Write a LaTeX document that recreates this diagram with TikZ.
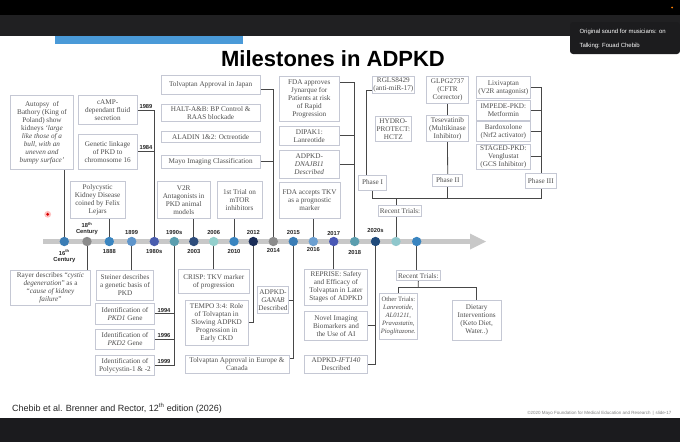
\documentclass[tikz,border=0pt]{standalone}
\usepackage{fontspec}
\setmainfont{Liberation Serif}
\newfontfamily\lsans{Liberation Sans}
\usetikzlibrary{calc}
\definecolor{boxc}{HTML}{C5C8D4}
\definecolor{txt}{HTML}{4E4E4E}
\definecolor{ln}{HTML}{474747}
\definecolor{barc}{HTML}{C8C8C8}
\definecolor{topg}{HTML}{202022}
\definecolor{botg}{HTML}{1B1B1E}
\definecolor{blueb}{HTML}{4A9AD8}
\definecolor{popc}{HTML}{1C1C1E}
\definecolor{dA}{HTML}{3B7DB5}
\definecolor{dG}{HTML}{8C8C8C}
\definecolor{dB}{HTML}{3A85C0}
\definecolor{dC}{HTML}{5E95CB}
\definecolor{dD}{HTML}{4A5DAE}
\definecolor{dE}{HTML}{5B9EAF}
\definecolor{dF}{HTML}{2E4D7C}
\definecolor{dH}{HTML}{93CFCC}
\definecolor{dI}{HTML}{1B2E58}
\definecolor{dJ}{HTML}{6B9FD1}
\definecolor{dK}{HTML}{4A58B5}
\definecolor{dL}{HTML}{214B7B}
\definecolor{dM}{HTML}{8FC7CC}
\pgfdeclarelayer{bgl}\pgfdeclarelayer{lnl}\pgfsetlayers{bgl,lnl,main}
\tikzset{
  box/.style={draw=boxc, fill=white, line width=0.7pt, text=txt, align=center,
    font=\fontsize{7.2}{8}\selectfont, inner xsep=1pt, inner ysep=0.5pt},
  dot/.style={circle, minimum size=9.4pt, inner sep=0pt},
  yl/.style={font=\lsans\bfseries\fontsize{5.8}{6.4}\selectfont, text=black!85, align=center, inner sep=0pt},
  conn/.style={draw=ln, line width=0.8pt}
}
\newcommand\bx[7][]{%
 \pgfmathsetmacro\myw{#5-#3}\pgfmathsetmacro\myh{#6-#4}%
 \pgfmathsetmacro\myx{(#3+#5)/2}\pgfmathsetmacro\myy{(#4+#6)/2}%
 \node[box,minimum width=\myw pt,minimum height=\myh pt,#1] (#2) at (\myx,\myy) {#7};}
\begin{document}
\begin{tikzpicture}[x=1pt,y=-1pt]
\useasboundingbox (0,0) rectangle (680,442);
\begin{pgfonlayer}{bgl}
\fill[white] (0,0) rectangle (680,442);
\fill[black] (0,0) rectangle (680,15);
\fill[topg] (0,15) rectangle (680,36);
\fill[botg] (0,418) rectangle (680,442);
\fill[blueb] (55,36) rectangle (243,44);
\fill[popc, rounded corners=3pt] (570,22) rectangle (680,54);
\fill[orange] (672,7.5) circle (1);
\fill[red!40, opacity=0.6] (47.7,214.3) circle (3.4);
\fill[red!85!black] (47.7,214.3) circle (1.6);
\end{pgfonlayer}
\node[font=\lsans\fontsize{6}{7}\selectfont, text=white, anchor=west] (pop1) at (576,31.5) {Original sound for musicians: on};
\node[font=\lsans\fontsize{6}{7}\selectfont, text=white, anchor=west] (pop2) at (576,45.5) {Talking: Fouad Chebib};
\node[font=\lsans\bfseries\fontsize{22}{24}\selectfont] (title) at (333,58.5) {Milestones in ADPKD};
\node[font=\lsans\fontsize{9}{10}\selectfont, text=black!85, anchor=west] (cite) at (8.5,408.3) {Chebib et al. Brenner and Rector, 12\textsuperscript{th} edition (2026)};
\node[font=\lsans\fontsize{4.5}{5}\selectfont, text=black!50, anchor=east] (copy) at (675,413.3) {©2020 Mayo Foundation for Medical Education and Research \,|\, slide-17};
% timeline bar
\begin{pgfonlayer}{lnl}
\draw[barc, line width=5pt] (43,241.5) -- (471,241.5);
\fill[barc] (470,233.5) -- (486,241.5) -- (470,249.5) -- cycle;
\end{pgfonlayer}
% dots
\node[dot, fill=dA] (c1) at (64.3,241.5) {};
\node[dot, fill=dG] (c2) at (87,241.5) {};
\node[dot, fill=dB] (c3) at (109.3,241.5) {};
\node[dot, fill=dC] (c4) at (131.7,241.5) {};
\node[dot, fill=dD] (c5) at (154.3,241.5) {};
\node[dot, fill=dE] (c6) at (174.3,241.5) {};
\node[dot, fill=dF] (c7) at (193.8,241.5) {};
\node[dot, fill=dH] (c8) at (213.7,241.5) {};
\node[dot, fill=dB] (c9) at (234,241.5) {};
\node[dot, fill=dI] (c10) at (253.3,241.5) {};
\node[dot, fill=dG] (c11) at (273.3,241.5) {};
\node[dot, fill=dA] (c12) at (293.3,241.5) {};
\node[dot, fill=dJ] (c13) at (313.3,241.5) {};
\node[dot, fill=dK] (c14) at (333.7,241.5) {};
\node[dot, fill=dE] (c15) at (354.7,241.5) {};
\node[dot, fill=dL] (c16) at (375.5,241.5) {};
\node[dot, fill=dM] (c17) at (396,241.5) {};
\node[dot, fill=dB] (c18) at (416.7,241.5) {};
% year labels
\node[yl] (y1) at (64.3,256.3) {16\textsuperscript{th}\\Century};
\node[yl] (y2) at (87,228.6) {18\textsuperscript{th}\\Century};
\node[yl] (y3) at (109.3,251.3) {1888};
\node[yl] (y4) at (131.7,232.3) {1899};
\node[yl] (y5) at (154.3,251.3) {1980s};
\node[yl] (y6) at (174.3,232.3) {1990s};
\node[yl] (y7) at (193.8,251.3) {2003};
\node[yl] (y8) at (213.7,232.3) {2006};
\node[yl] (y9) at (234,251.3) {2010};
\node[yl] (y10) at (253.3,232.3) {2012};
\node[yl] (y11) at (273.3,250.8) {2014};
\node[yl] (y12) at (293.3,232.3) {2015};
\node[yl] (y13) at (313.3,249.8) {2016};
\node[yl] (y14) at (333.7,233.3) {2017};
\node[yl] (y15) at (354.7,252.5) {2018};
\node[yl] (y16) at (375.5,230.5) {2020s};
% boxes
\bx{autopsy}{10.7}{95.7}{73.3}{169.3}{Autopsy\ \ of\\Bathory (King of\\Poland) show\\kidneys \emph{`large}\\\emph{like those of a}\\\emph{bull, with an}\\\emph{uneven and}\\\emph{bumpy surface'}}
\bx{camp}{78.3}{95.7}{137}{124.3}{cAMP-\\dependant fluid\\secretion}
\bx{link}{78.3}{134.3}{137}{169.3}{Genetic linkage\\of PKD to\\chromosome 16}
\bx{polyc}{70.3}{181.7}{125}{218.3}{Polycystic\\Kidney Disease\\coined by Felix\\Lejars}
\bx{rayer}{10.3}{270}{90.7}{305}{Rayer describes ``\emph{cystic}\\\emph{degeneration}'' as a\\``\emph{cause of kidney}\\\emph{failure}''}
\bx{steiner}{96.3}{270}{153.7}{300.7}{Steiner describes\\a genetic basis of\\PKD}
\bx{pkd1}{95.7}{303.3}{154.3}{324}{Identification of\\\emph{PKD1} Gene}
\bx{pkd2}{95.7}{329}{154.3}{349.3}{Identification of\\\emph{PKD2} Gene}
\bx{poly}{95.7}{355.3}{154.3}{375.3}{Identification of\\Polycystin-1 \& -2}
\bx{japan}{161}{75.7}{260.3}{94}{Tolvaptan Approval in Japan}
\bx{halt}{161}{104.3}{260.3}{121.7}{HALT-A\&B: BP Control \&\\RAAS blockade}
\bx{aladin}{161}{131.7}{260.3}{142.7}{ALADIN 1\&2: Octreotide}
\bx{mayo}{161}{155}{260.3}{168.3}{Mayo Imaging Classification}
\bx{v2r}{157.3}{181.7}{210}{218.3}{V2R\\Antagonists in\\PKD animal\\models}
\bx{mtor}{217}{181.7}{262}{218.3}{1st Trial on\\mTOR\\inhibitors}
\bx{crisp}{178.3}{269.3}{249.3}{293.3}{CRISP: TKV marker\\of progression}
\bx{tempo}{185}{300}{248.3}{345}{TEMPO 3:4: Role\\of Tolvaptan in\\Slowing ADPKD\\Progression in\\Early CKD}
\bx{ganab}{257.7}{286.7}{288.3}{313.3}{ADPKD-\\\emph{GANAB}\\Described}
\bx{europe}{185}{355}{289}{373.3}{Tolvaptan Approval in Europe \&\\Canada}
\bx{jyn}{279.3}{76.7}{339.3}{121.7}{FDA approves\\Jynarque for\\Patients at risk\\of Rapid\\Progression}
\bx{dipak}{279.3}{126.7}{339.3}{145}{DIPAK1:\\Lanreotide}
\bx{dnajb}{279.3}{150}{339.3}{178.3}{ADPKD-\\\emph{DNAJB11}\\\emph{Described}}
\bx{tkv}{279.3}{182.7}{340}{218.3}{FDA accepts TKV\\as a prognostic\\marker}
\bx{reprise}{304.3}{269.3}{367.7}{305}{REPRISE: Safety\\and Efficacy of\\Tolvaptan in Later\\Stages of ADPKD}
\bx{novel}{304.3}{311.7}{367.7}{340}{Novel Imaging\\Biomarkers and\\the Use of AI}
\bx{ift}{304.3}{355}{367.7}{373.3}{ADPKD-\emph{IFT140}\\Described}
\bx{rgls}{375}{76}{411.7}{93.3}{RGLS8429\\(anti-miR-17)}
\bx{hydro}{375}{116.7}{411.7}{141.7}{HYDRO-\\PROTECT:\\HCTZ}
\bx{phase1}{358.3}{175}{386.7}{190}{Phase I}
\bx{rt1}{381.7}{205}{418.3}{216.7}{Recent Trials:}
\bx{glpg}{426.7}{76}{468.3}{103.3}{GLPG2737\\(CFTR\\Corrector)}
\bx{tese}{426.7}{115}{468.3}{141.7}{Tesevatinib\\(Multikinase\\Inhibitor)}
\bx{phase2}{432.7}{174.3}{462.7}{186}{Phase II}
\bx{lixi}{476.7}{76.7}{530}{98.3}{Lixivaptan\\(V2R antagonist)}
\bx{impede}{476.7}{100.7}{530}{120}{IMPEDE-PKD:\\Metformin}
\bx{bardox}{476.7}{121.7}{530}{141}{Bardoxolone\\(Nrf2 activator)}
\bx{staged}{476.7}{144}{530}{169.3}{STAGED-PKD:\\Venglustat\\(GCS Inhibitor)}
\bx{phase3}{525}{173.3}{556.7}{188.3}{Phase III}
\bx{rt2}{396.7}{270.7}{440}{280.7}{Recent Trials:}
\bx[font=\fontsize{6.6}{8}\selectfont]{other}{381}{293.3}{415.7}{339.3}{Other Trials:\\\emph{Lanreotide,}\\\emph{AL01211,}\\\emph{Pravastatin,}\\\emph{Pioglitazone.}}
\bx{diet}{452.3}{300}{501}{340}{Dietary\\Interventions\\(Keto Diet,\\Water..)}
% bracket year labels
\node[yl] (k89) at (146,106.3) {1989};
\node[yl] (k84) at (146,147.5) {1984};
\node[yl] (k94) at (164,310.3) {1994};
\node[yl] (k96) at (164,335.6) {1996};
\node[yl] (k99) at (164,361.5) {1999};
% connectors
\coordinate (t1) at (273.3,89);
\coordinate (e12) at (293.3,358.3);
\coordinate (j1) at (354.7,82.7);
\coordinate (r1) at (366.7,90);
\coordinate (hL) at (372.5,198.3);
\coordinate (hR) at (541.7,198.3);
\coordinate (h2) at (418.3,287.7);
\begin{pgfonlayer}{lnl}
\draw[conn] (c1) -- (c1 |- autopsy.south);
\draw[conn] (c2) -- (c2 |- rayer.north);
\draw[conn] (c3) -- (c3 |- polyc.south);
\draw[conn] (c4) -- (c4 |- steiner.north);
\draw[conn] (c5) |- (camp.east);
\draw[conn] (link.east) -- (link.east -| c5);
\draw[conn] (c6) |- (poly.east);
\draw[conn] (pkd1.east) -- (pkd1.east -| c6);
\draw[conn] (pkd2.east) -- (pkd2.east -| c6);
\draw[conn] (c7) -- (c7 |- v2r.south);
\draw[conn] (c8) -- (c8 |- crisp.north);
\draw[conn] (c9) -- (c9 |- mtor.south);
\draw[conn] (c10) |- (tempo.east);
\draw[conn] (japan.east |- t1) -- (t1) -- (c11);
\draw[conn] (mayo.east) -- (mayo.east -| c11);
\draw[conn] (c12) -- (e12) -- (europe.east |- e12);
\draw[conn] (ganab.east) -- (ganab.east -| c12);
\draw[conn] (c13) -- (c13 |- tkv.south);
\draw[conn] (c14) -- (c14 |- reprise.north);
\draw[conn] (jyn.east |- j1) -- (j1) -- (c15);
\draw[conn] (dipak.east) -- (dipak.east -| c15);
\draw[conn] (dnajb.east) -- (dnajb.east -| c15);
\draw[conn] (c16) |- (ift.east);
\draw[conn] (novel.east) -- (novel.east -| c16);
\draw[conn] (c17) -- (c17 |- rt1.south);
\draw[conn] (c17 |- rt1.north) -- (c17 |- hL);
\draw[conn] (rgls.west |- r1) -- (r1) -- (r1 |- phase1.north);
\draw[conn] (phase1.south) -- (hL) -- (hR);
\draw[conn] (glpg.south) -- (tese.north);
\draw[conn] (tese.south) -- (phase2.north);
\draw[conn] (phase2.south) -- (phase2.south |- hL);
\draw[conn] (lixi.east) -| (hR);
\draw[conn] (impede.east) -- (impede.east -| hR);
\draw[conn] (bardox.east) -- (bardox.east -| hR);
\draw[conn] (staged.east) -- (staged.east -| hR);
\draw[conn] (c18) -- (c18 |- rt2.north);
\draw[conn] (rt2.south) -- (h2);
\draw[conn] (other.north) -- (other.north |- h2) -- (diet.north |- h2) -- (diet.north);
\end{pgfonlayer}
\end{tikzpicture}
\end{document}
